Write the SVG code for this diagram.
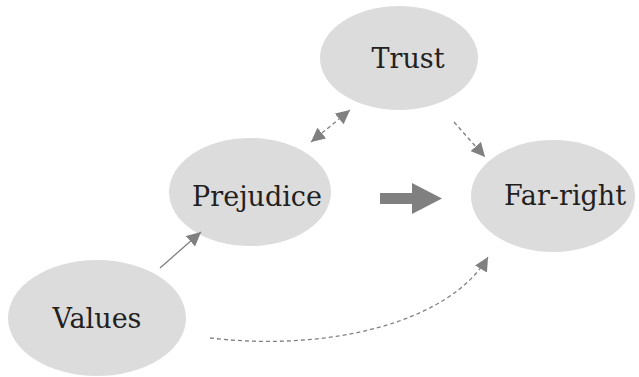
<svg xmlns="http://www.w3.org/2000/svg" width="639" height="377" viewBox="0 0 639 377">
<style>
.node{fill:#dcdcdd}
.lbl{font-family:"DejaVu Serif","Liberation Serif",serif;font-size:27px;fill:#231f20;text-anchor:middle}
.c{fill:none;stroke:#808080;stroke-width:1.3}
.d{stroke-dasharray:4 3}
</style>
<defs>
<marker id="ah" markerUnits="userSpaceOnUse" markerWidth="16" markerHeight="14" refX="14" refY="7" orient="auto-start-reverse">
<path d="M0,0 L14,7 L0,14 Z" fill="#808080"/>
</marker>
</defs>
<rect width="639" height="377" fill="#fff"/>
<g id="trust"><ellipse class="node" cx="399" cy="58" rx="79" ry="52"/><text class="lbl" x="408" y="68">Trust</text></g>
<g id="prejudice"><ellipse class="node" cx="250" cy="192" rx="81" ry="54"/><text class="lbl" x="257" y="206">Prejudice</text></g>
<g id="farright"><ellipse class="node" cx="553" cy="196" rx="82" ry="56"/><text class="lbl" x="565" y="205">Far-right</text></g>
<g id="values"><ellipse class="node" cx="97" cy="318" rx="89" ry="58"/><text class="lbl" x="97" y="328">Values</text></g>
<g id="connectors">
<path class="c d" d="M311,142 L350,110" marker-start="url(#ah)" marker-end="url(#ah)"/>
<path class="c d" d="M454,122 L485,157" marker-end="url(#ah)"/>
<path class="c" d="M160,268 L201,232" marker-end="url(#ah)"/>
<path class="c d" d="M210,338 C330,352 450,322 488,257" marker-end="url(#ah)"/>
<path d="M380,193 L412,193 L412,183 L442,198.5 L412,214 L412,204 L380,204 Z" fill="#808080"/>
</g>
</svg>
